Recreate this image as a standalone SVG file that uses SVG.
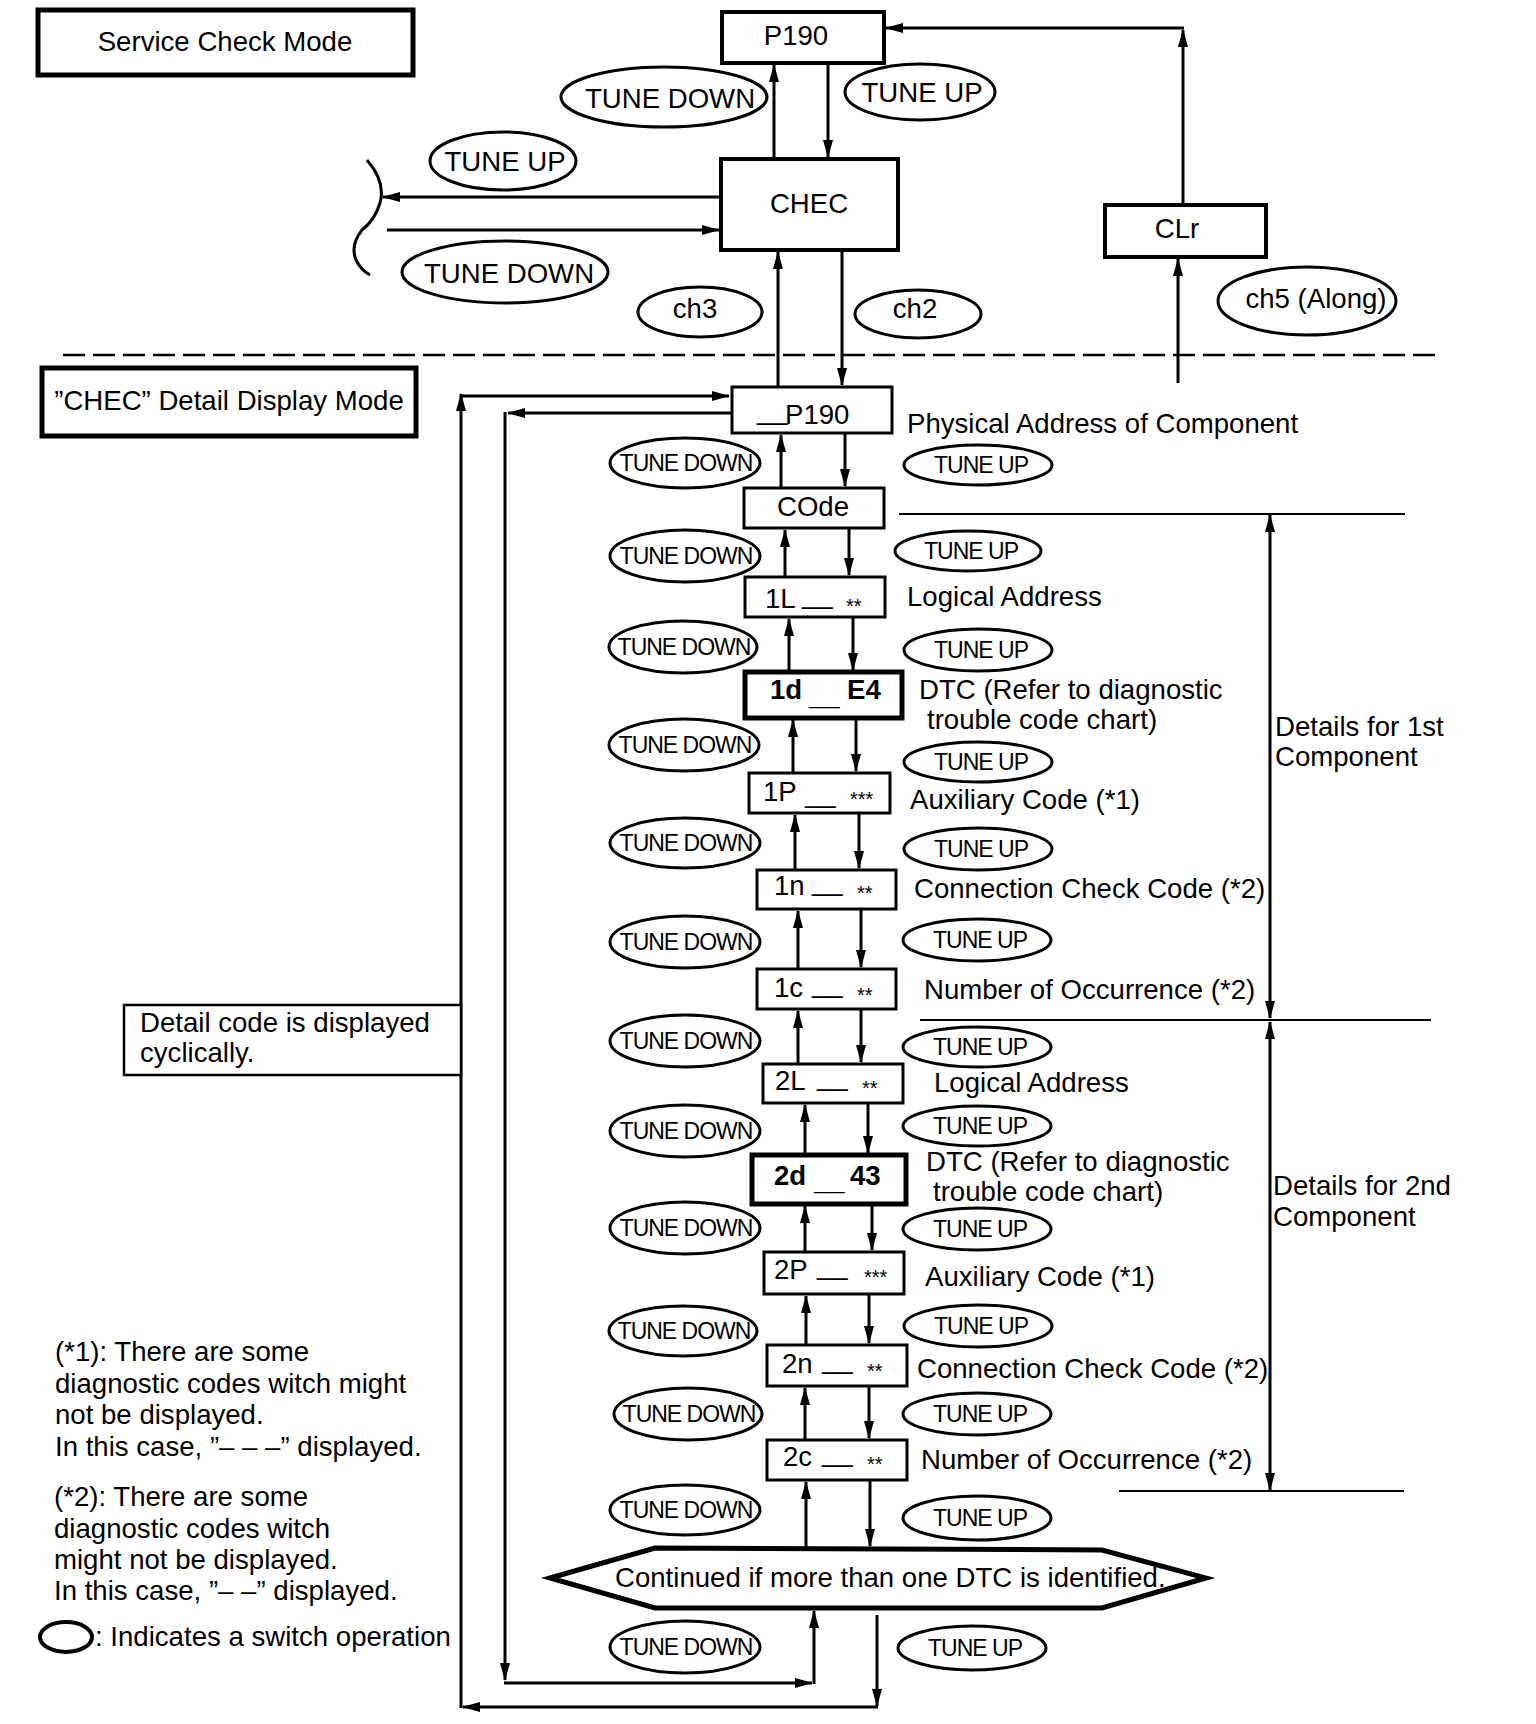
<svg xmlns="http://www.w3.org/2000/svg" width="1536" height="1724" viewBox="0 0 1536 1724">
<defs>
<style>
text{font-family:"Liberation Sans",Arial,Helvetica,sans-serif;fill:#000}
.t{font-size:27.6px}
.s{font-size:23px;letter-spacing:-1px}
.m{text-anchor:middle}
.b{font-weight:bold}
.a{font-size:20px}
.box{fill:#fff;stroke:#000;stroke-width:3}
.bx4{stroke-width:4}
.bx5{stroke-width:5}
.ell{fill:none;stroke:#000;stroke-width:3}
.ln{fill:none;stroke:#000;stroke-width:3}
.thin{fill:none;stroke:#000;stroke-width:2}
.arr{marker-end:url(#ah)}
</style>
<marker id="ah" viewBox="0 0 18 10" refX="17" refY="5" markerWidth="18" markerHeight="10" markerUnits="userSpaceOnUse" orient="auto"><path d="M0,0 L18,5 L0,10 z" fill="#000"/></marker>
</defs>
<rect width="1536" height="1724" fill="#fff"/>

<g id="connectors">
<path class="ln arr" d="M828,65 L828,157"/>
<path class="ln arr" d="M774,159 L774,65"/>
<path class="ln arr" d="M721,197 L383,197"/>
<path class="ln arr" d="M387,230 L719,230"/>
<path class="ln" d="M367,160 Q386,182 380,203 Q375,220 362,230 Q350,245 356,260 Q361,270 370,275"/>
<path class="ln arr" d="M1183,205 L1183,30"/>
<path class="ln arr" d="M1184,28 L886,28"/>
<path class="ln arr" d="M1178,383 L1178,259"/>
<path class="ln arr" d="M778,387 L778,252"/>
<path class="ln arr" d="M842,252 L842,385"/>
<path fill="none" stroke="#000" stroke-width="2.5" stroke-dasharray="22 8" d="M63,355 L1441,355"/>

<path class="ln arr" d="M877,1615 L877,1706"/>
<path class="ln arr" d="M878,1707 L463,1707"/>
<path class="ln arr" d="M461,1708 L461,394"/>
<path class="ln arr" d="M460,396 L729,396"/>
<path class="ln arr" d="M732,413 L508,413"/>
<path class="ln arr" d="M505,412 L505,1680"/>
<path class="ln arr" d="M504,1683 L812,1683"/>
<path class="ln arr" d="M814,1684 L814,1611"/>

<path class="ln arr" d="M781,488 L781,435"/><path class="ln arr" d="M845,433 L845,486"/>
<path class="ln arr" d="M785,577 L785,530"/><path class="ln arr" d="M849,528 L849,575"/>
<path class="ln arr" d="M789,672 L789,619"/><path class="ln arr" d="M853,617 L853,670"/>
<path class="ln arr" d="M793,773 L793,720"/><path class="ln arr" d="M856,718 L856,771"/>
<path class="ln arr" d="M795,870 L795,815"/><path class="ln arr" d="M859,813 L859,868"/>
<path class="ln arr" d="M798,969 L798,911"/><path class="ln arr" d="M861,909 L861,967"/>
<path class="ln arr" d="M798,1064 L798,1011"/><path class="ln arr" d="M861,1009 L861,1062"/>
<path class="ln arr" d="M805,1155 L805,1105"/><path class="ln arr" d="M868,1103 L868,1153"/>
<path class="ln arr" d="M805,1252 L805,1206"/><path class="ln arr" d="M872,1204 L872,1250"/>
<path class="ln arr" d="M806,1345 L806,1296"/><path class="ln arr" d="M869,1294 L869,1343"/>
<path class="ln arr" d="M805,1440 L805,1388"/><path class="ln arr" d="M869,1386 L869,1438"/>
<path class="ln arr" d="M806,1548 L806,1482"/><path class="ln arr" d="M870,1480 L870,1546"/>

<path class="thin" d="M899,514 L1405,514"/>
<path class="thin" d="M920,1020 L1431,1020"/>
<path class="thin" d="M1119,1491 L1404,1491"/>
<path class="ln arr" d="M1270,767 L1270,515"/>
<path class="ln arr" d="M1270,767 L1270,1018"/>
<path class="ln arr" d="M1270,1255 L1270,1022"/>
<path class="ln arr" d="M1270,1255 L1270,1490"/>
</g>

<g id="title-service">
<rect class="box bx5" x="38" y="10" width="375" height="65"/>
<text class="t m" x="225" y="51">Service Check Mode</text>
</g>
<g id="title-chec">
<rect class="box bx5" x="42" y="368" width="374" height="68"/>
<text class="t m" x="229" y="410">”CHEC” Detail Display Mode</text>
</g>

<g id="node-p190-top">
<rect class="box bx4" x="722" y="12" width="162" height="51"/>
<text class="t m" x="796" y="45">P190</text>
</g>
<g id="node-chec">
<rect class="box bx4" x="721" y="159" width="177" height="91"/>
<text class="t m" x="809" y="213">CHEC</text>
</g>
<g id="node-clr">
<rect class="box bx4" x="1105" y="205" width="161" height="52"/>
<text class="t m" x="1177" y="238">CLr</text>
</g>

<g id="op-top-down"><ellipse class="ell" cx="664" cy="97" rx="103" ry="30"/><text class="t m" x="670" y="108">TUNE DOWN</text></g>
<g id="op-top-up"><ellipse class="ell" cx="920" cy="92" rx="75" ry="28"/><text class="t m" x="922" y="102">TUNE UP</text></g>
<g id="op-left-up"><ellipse class="ell" cx="503" cy="161" rx="73" ry="29"/><text class="t m" x="505" y="171">TUNE UP</text></g>
<g id="op-left-down"><ellipse class="ell" cx="505" cy="272" rx="103" ry="31"/><text class="t m" x="509" y="283">TUNE DOWN</text></g>
<g id="op-ch3"><ellipse class="ell" cx="700" cy="312" rx="62" ry="25"/><text class="t m" x="695" y="318">ch3</text></g>
<g id="op-ch2"><ellipse class="ell" cx="918" cy="314" rx="63" ry="24"/><text class="t m" x="915" y="318">ch2</text></g>
<g id="op-ch5"><ellipse class="ell" cx="1307" cy="301" rx="89" ry="34"/><text class="t m" x="1316" y="308">ch5 (Along)</text></g>

<g id="node-p190">
<rect class="box" x="732" y="387" width="160" height="46"/>
<text class="t" x="757" y="424"><tspan y="419">__</tspan><tspan x="785" y="424">P190</tspan></text>
</g>
<g id="node-code">
<rect class="box" x="744" y="488" width="140" height="40"/>
<text class="t m" x="813" y="516">COde</text>
</g>
<g id="node-1L">
<rect class="box" x="745" y="577" width="140" height="40"/>
<text class="t" x="765" y="608">1L <tspan x="802" y="603">__</tspan> <tspan class="a" x="846" y="613">**</tspan></text>
</g>
<g id="node-1d">
<rect class="box bx5" x="745" y="672" width="157" height="46"/>
<text class="t b" x="770" y="699">1d <tspan x="809" y="705">__</tspan> <tspan x="847" y="699">E4</tspan></text>
</g>
<g id="node-1P">
<rect class="box" x="749" y="773" width="141" height="40"/>
<text class="t" x="763" y="801">1P <tspan x="805" y="802">__</tspan> <tspan class="a" x="850" y="806">***</tspan></text>
</g>
<g id="node-1n">
<rect class="box" x="757" y="870" width="139" height="39"/>
<text class="t" x="774" y="895">1n <tspan x="812" y="890">__</tspan> <tspan class="a" x="857" y="900">**</tspan></text>
</g>
<g id="node-1c">
<rect class="box" x="757" y="969" width="139" height="40"/>
<text class="t" x="774" y="997">1c <tspan x="812" y="992">__</tspan> <tspan class="a" x="857" y="1002">**</tspan></text>
</g>
<g id="node-2L">
<rect class="box" x="763" y="1064" width="140" height="39"/>
<text class="t" x="775" y="1090">2L <tspan x="817" y="1085">__</tspan> <tspan class="a" x="862" y="1095">**</tspan></text>
</g>
<g id="node-2d">
<rect class="box bx5" x="752" y="1155" width="154" height="49"/>
<text class="t b" x="774" y="1185">2d <tspan x="814" y="1190">__</tspan> <tspan x="850" y="1185">43</tspan></text>
</g>
<g id="node-2P">
<rect class="box" x="764" y="1252" width="140" height="42"/>
<text class="t" x="774" y="1279">2P <tspan x="817" y="1274">__</tspan> <tspan class="a" x="864" y="1284">***</tspan></text>
</g>
<g id="node-2n">
<rect class="box" x="767" y="1345" width="140" height="41"/>
<text class="t" x="782" y="1373">2n <tspan x="822" y="1368">__</tspan> <tspan class="a" x="867" y="1378">**</tspan></text>
</g>
<g id="node-2c">
<rect class="box" x="767" y="1440" width="140" height="40"/>
<text class="t" x="783" y="1466">2c <tspan x="822" y="1461">__</tspan> <tspan class="a" x="867" y="1471">**</tspan></text>
</g>
<g id="node-continued">
<polygon fill="#fff" stroke="#000" stroke-width="5" stroke-linejoin="miter" points="550,1578 655,1548 1102,1550 1206,1578 1102,1608 655,1608"/>
<text class="t" x="615" y="1587">Continued if more than one DTC is identified.</text>
</g>

<g id="ops-down">
<ellipse class="ell" cx="685" cy="463" rx="75" ry="25"/><text class="s m" x="686" y="471">TUNE DOWN</text>
<ellipse class="ell" cx="685" cy="556" rx="75" ry="26"/><text class="s m" x="686" y="564">TUNE DOWN</text>
<ellipse class="ell" cx="683" cy="647" rx="74" ry="26"/><text class="s m" x="684" y="655">TUNE DOWN</text>
<ellipse class="ell" cx="684" cy="745" rx="75" ry="26"/><text class="s m" x="685" y="753">TUNE DOWN</text>
<ellipse class="ell" cx="685" cy="843" rx="75" ry="25"/><text class="s m" x="686" y="851">TUNE DOWN</text>
<ellipse class="ell" cx="685" cy="942" rx="75" ry="26"/><text class="s m" x="686" y="950">TUNE DOWN</text>
<ellipse class="ell" cx="685" cy="1041" rx="75" ry="26"/><text class="s m" x="686" y="1049">TUNE DOWN</text>
<ellipse class="ell" cx="685" cy="1131" rx="75" ry="26"/><text class="s m" x="686" y="1139">TUNE DOWN</text>
<ellipse class="ell" cx="685" cy="1228" rx="75" ry="26"/><text class="s m" x="686" y="1236">TUNE DOWN</text>
<ellipse class="ell" cx="683" cy="1331" rx="74" ry="25"/><text class="s m" x="684" y="1339">TUNE DOWN</text>
<ellipse class="ell" cx="688" cy="1414" rx="74" ry="26"/><text class="s m" x="689" y="1422">TUNE DOWN</text>
<ellipse class="ell" cx="685" cy="1510" rx="75" ry="25"/><text class="s m" x="686" y="1518">TUNE DOWN</text>
<ellipse class="ell" cx="685" cy="1647" rx="75" ry="26"/><text class="s m" x="686" y="1655">TUNE DOWN</text>
</g>
<g id="ops-up">
<ellipse class="ell" cx="978" cy="465" rx="74" ry="20"/><text class="s m" x="981" y="473">TUNE UP</text>
<ellipse class="ell" cx="968" cy="551" rx="73" ry="20"/><text class="s m" x="971" y="559">TUNE UP</text>
<ellipse class="ell" cx="978" cy="650" rx="74" ry="21"/><text class="s m" x="981" y="658">TUNE UP</text>
<ellipse class="ell" cx="978" cy="762" rx="74" ry="20"/><text class="s m" x="981" y="770">TUNE UP</text>
<ellipse class="ell" cx="978" cy="849" rx="74" ry="21"/><text class="s m" x="981" y="857">TUNE UP</text>
<ellipse class="ell" cx="977" cy="940" rx="74" ry="21"/><text class="s m" x="980" y="948">TUNE UP</text>
<ellipse class="ell" cx="977" cy="1047" rx="74" ry="20"/><text class="s m" x="980" y="1055">TUNE UP</text>
<ellipse class="ell" cx="977" cy="1126" rx="74" ry="20"/><text class="s m" x="980" y="1134">TUNE UP</text>
<ellipse class="ell" cx="977" cy="1229" rx="74" ry="21"/><text class="s m" x="980" y="1237">TUNE UP</text>
<ellipse class="ell" cx="978" cy="1326" rx="74" ry="21"/><text class="s m" x="981" y="1334">TUNE UP</text>
<ellipse class="ell" cx="977" cy="1414" rx="74" ry="21"/><text class="s m" x="980" y="1422">TUNE UP</text>
<ellipse class="ell" cx="977" cy="1518" rx="74" ry="22"/><text class="s m" x="980" y="1526">TUNE UP</text>
<ellipse class="ell" cx="972" cy="1648" rx="74" ry="22"/><text class="s m" x="975" y="1656">TUNE UP</text>
</g>

<g id="labels">
<text class="t" x="907" y="433">Physical Address of Component</text>
<text class="t" x="907" y="606">Logical Address</text>
<text class="t" x="919" y="699">DTC (Refer to diagnostic</text>
<text class="t" x="927" y="729">trouble code chart)</text>
<text class="t" x="910" y="809">Auxiliary Code (*1)</text>
<text class="t" x="914" y="898">Connection Check Code (*2)</text>
<text class="t" x="924" y="999">Number of Occurrence (*2)</text>
<text class="t" x="934" y="1092">Logical Address</text>
<text class="t" x="926" y="1171">DTC (Refer to diagnostic</text>
<text class="t" x="933" y="1201">trouble code chart)</text>
<text class="t" x="925" y="1286">Auxiliary Code (*1)</text>
<text class="t" x="917" y="1378">Connection Check Code (*2)</text>
<text class="t" x="921" y="1469">Number of Occurrence (*2)</text>
<text class="t" x="1275" y="736">Details for 1st</text>
<text class="t" x="1275" y="766">Component</text>
<text class="t" x="1273" y="1195">Details for 2nd</text>
<text class="t" x="1273" y="1226">Component</text>
</g>

<g id="note-cyclic">
<rect fill="#fff" stroke="#000" stroke-width="2.5" x="124" y="1005" width="337" height="70"/>
<text class="t" x="140" y="1032">Detail code is displayed</text>
<text class="t" x="140" y="1062">cyclically.</text>
</g>

<g id="notes">
<text class="t" x="55" y="1361">(*1): There are some</text>
<text class="t" x="55" y="1393">diagnostic codes witch might</text>
<text class="t" x="55" y="1424">not be displayed.</text>
<text class="t" x="55" y="1456">In this case, ”– – –” displayed.</text>
<text class="t" x="54" y="1506">(*2): There are some</text>
<text class="t" x="54" y="1538">diagnostic codes witch</text>
<text class="t" x="54" y="1569">might not be displayed.</text>
<text class="t" x="54" y="1600">In this case, ”– –” displayed.</text>
</g>
<g id="legend">
<ellipse fill="none" stroke="#000" stroke-width="4" cx="66" cy="1637" rx="26" ry="15"/>
<text class="t" x="95" y="1646">: Indicates a switch operation</text>
</g>
</svg>
